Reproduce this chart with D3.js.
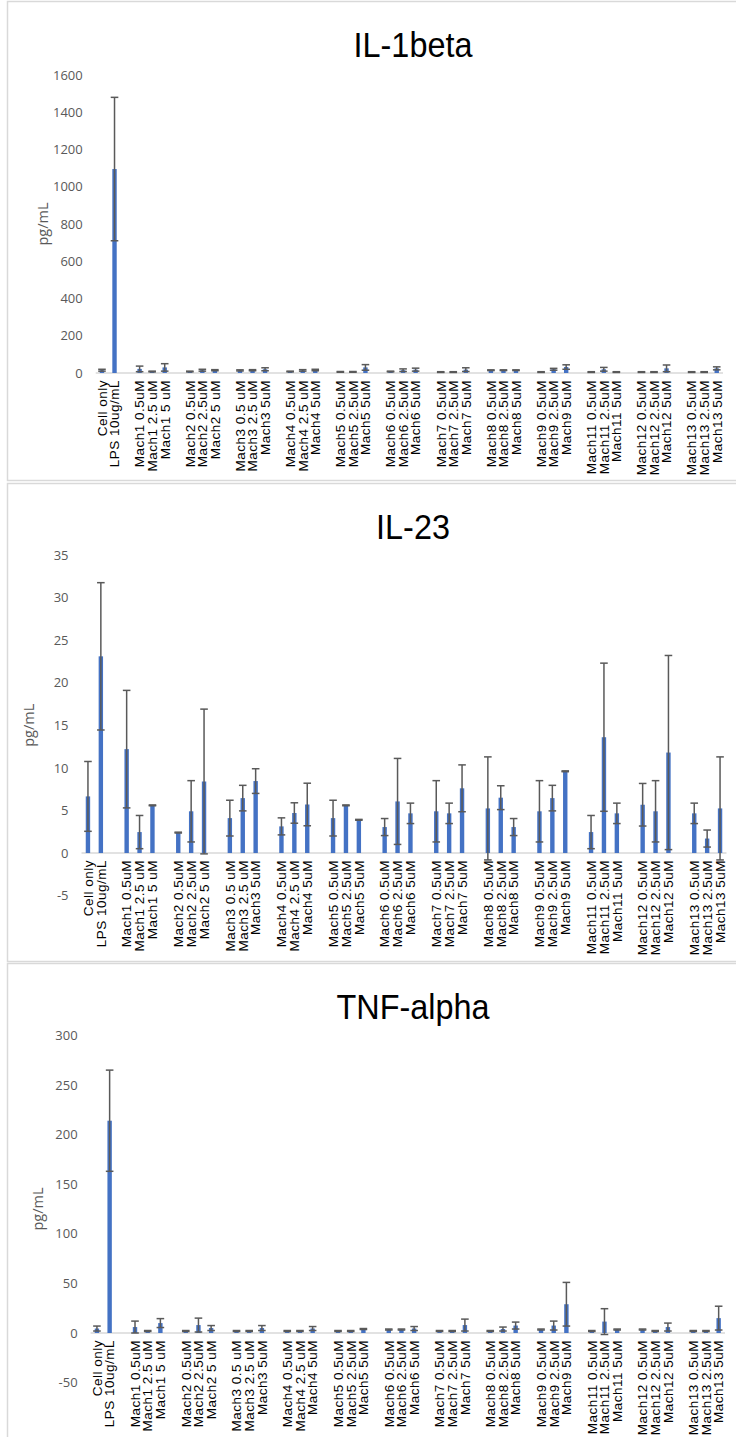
<!doctype html>
<html>
  <head>
    <meta charset="utf-8">
    <script src="https://cdnjs.cloudflare.com/ajax/libs/d3/7.8.5/d3.min.js"></script>
    <style>
      body { margin: 0; background: #fff; }
      svg { display: block; }
    </style>
  </head>
  <body>
    <svg id="chart" width="736" height="1437"></svg>
    <script>
        // x categories, blanks are the gaps between groups (empty rows in the sheet)
        var categories = ["Cell only", "LPS 10ug/mL", "",
            "Mach1 0.5uM", "Mach1 2.5 uM", "Mach1 5 uM", "",
            "Mach2 0.5uM", "Mach2 2.5uM", "Mach2 5 uM", "",
            "Mach3 0.5 uM", "Mach3 2.5 uM", "Mach3 5uM", "",
            "Mach4 0.5uM", "Mach4 2.5 uM", "Mach4 5uM", "",
            "Mach5 0.5uM", "Mach5 2.5uM", "Mach5 5uM", "",
            "Mach6 0.5uM", "Mach6 2.5uM", "Mach6 5uM", "",
            "Mach7 0.5uM", "Mach7 2.5uM", "Mach7 5uM", "",
            "Mach8 0.5uM", "Mach8 2.5uM", "Mach8 5uM", "",
            "Mach9 0.5uM", "Mach9 2.5uM", "Mach9 5uM", "",
            "Mach11  0.5uM", "Mach11  2.5uM", "Mach11  5uM", "",
            "Mach12  0.5uM", "Mach12  2.5uM", "Mach12  5uM", "",
            "Mach13  0.5uM", "Mach13  2.5uM", "Mach13  5uM"];

        var il1Mean = [15, 1095, null, 22, 8, 30, null, 8, 15, 15, null, 14, 15, 20, null,
            8, 14, 16, null, 6, 6, 30, null, 8, 15, 18, null, 5, 5, 18, null,
            15, 15, 15, null, 5, 20, 32, null, 5, 20, 5, null, 5, 5, 25, null, 5, 5, 25];
        var il1Err = [5, 385, null, 15, 2, 20, null, 2, 5, 3, null, 3, 3, 8, null,
            2, 4, 4, null, 2, 2, 15, null, 2, 7, 8, null, 2, 2, 10, null,
            2, 2, 2, null, 2, 5, 12, null, 2, 10, 2, null, 2, 2, 18, null, 2, 2, 8];

        var il23Mean = [6.65, 23.1, null, 12.2, 2.46, 5.6, null, 2.4, 4.9, 8.4, null, 4.1, 6.45, 8.45, null,
            3.13, 4.7, 5.7, null, 4.1, 5.6, 3.9, null, 3.05, 6.06, 4.66, null, 4.9, 4.66, 7.6, null,
            5.24, 6.5, 3.05, null, 4.9, 6.45, 9.6, null, 2.46, 13.6, 4.66, null, 5.67, 4.9, 11.8, null, 4.66, 1.7, 5.24];
        var il23Err = [4.1, 8.65, null, 6.9, 1.95, 0.05, null, 0.05, 3.6, 8.5, null, 2.1, 1.5, 1.45, null,
            1.0, 1.2, 2.5, null, 2.1, 0.05, 0.05, null, 1.0, 5.05, 1.2, null, 3.6, 1.2, 2.75, null,
            6.05, 1.4, 1.0, null, 3.6, 1.5, 0.05, null, 1.95, 8.7, 1.2, null, 2.5, 3.6, 11.4, null, 1.2, 1.0, 6.05];

        var tnfMean = [4.5, 214, null, 6, 2, 10, null, 2, 8, 5, null, 2, 2, 5, null,
            2, 2, 4.5, null, 2, 2, 4, null, 3.5, 3.5, 4.5, null, 2, 2, 8, null,
            2, 4, 7.5, null, 3.5, 7.5, 29, null, 2, 11.5, 3.5, null, 3.5, 2, 6, null, 2, 2, 15];
        var tnfErr = [2.5, 51, null, 6, 0.5, 4.5, null, 0.5, 7, 2.5, null, 0.5, 0.5, 2.5, null,
            0.5, 0.5, 2, null, 0.5, 0.5, 0.5, null, 0.5, 0.5, 2, null, 0.5, 0.5, 6, null,
            0.5, 2, 3.5, null, 0.5, 4.5, 22, null, 0.5, 13, 0.5, null, 0.5, 0.5, 4, null, 0.5, 0.5, 12];

        var titles = ["IL-1beta", "IL-23", "TNF-alpha"];
        var yDomains = [[0, 1600], [-5, 35], [-50, 300]];
        var yTicks = [d3.range(0, 1601, 200), d3.range(-5, 36, 5), d3.range(-50, 301, 50)];

        // layout of the three stacked panels
        var panels = [
            {top: 1, bottom: 480, left: 95.7, right: 723, yTop: 75, yBot: 373, mean: il1Mean, err: il1Err},
            {top: 483, bottom: 961, left: 81.5, right: 726.5, yTop: 555, yBot: 895.6, mean: il23Mean, err: il23Err},
            {top: 963, bottom: 1460, left: 90.6, right: 725, yTop: 1035.4, yBot: 1382.6, mean: tnfMean, err: tnfErr}
        ];

        var svg = d3.select("#chart");
        var blue = "#4472C4", errColor = "#595959";

        panels.forEach(function(p, i){
            var g = svg.append("g");

            g.append("rect")
                .attr("x", 7.5).attr("y", p.top + 0.5)
                .attr("width", 760).attr("height", p.bottom - p.top)
                .attr("fill", "#fff").attr("stroke", "#d9d9d9").attr("stroke-width", 1.5);

            g.append("text")
                .attr("transform", "translate(413," + (p.top + 56) + ") scale(0.9,1)")
                .attr("text-anchor", "middle")
                .style("font-family", "'Liberation Sans', Arial, sans-serif")
                .style("font-size", "36px")
                .attr("fill", "#000")
                .text(titles[i]);

            var x = d3.scaleBand()
                .domain(d3.range(categories.length))
                .range([p.left, p.right]);

            var y = d3.scaleLinear()
                .domain(yDomains[i])
                .range([p.yBot, p.yTop]);

            var axis = d3.axisLeft(y)
                .tickValues(yTicks[i])
                .tickFormat(d => String(d))
                .tickSize(0)
                .tickPadding(13);
            var ax = g.append("g")
                .attr("transform", "translate(" + p.left + ",0)")
                .call(axis);
            ax.select(".domain").remove();
            ax.selectAll("text")
                .style("font-family", "'Open Sans', sans-serif")
                .style("font-size", "13px")
                .attr("fill", "#595959");

            g.append("text")
                .attr("transform", "translate(" + (p.left - 48) + "," + ((p.yTop + p.yBot) / 2) + ") rotate(-90)")
                .attr("text-anchor", "middle")
                .style("font-family", "'Open Sans', sans-serif")
                .style("font-size", "14.5px")
                .attr("fill", "#595959")
                .text("pg/mL");

            // zero line
            g.append("line")
                .attr("x1", p.left).attr("x2", p.right)
                .attr("y1", y(0)).attr("y2", y(0))
                .attr("stroke", "#d9d9d9").attr("stroke-width", 1.5);

            var rows = categories.map(function(c, j){
                return {i: j, name: c, v: p.mean[j], e: p.err[j]};
            }).filter(function(d){ return d.v != null; });

            g.selectAll("rect.bar")
                .data(rows)
                .enter()
                .append("rect")
                    .attr("class", "bar")
                    .attr("x", d => x(d.i) + x.bandwidth() / 2 - 2.2)
                    .attr("width", 4.4)
                    .attr("y", d => y(Math.max(0, d.v)))
                    .attr("height", d => Math.abs(y(d.v) - y(0)))
                    .attr("fill", blue);

            var eb = g.selectAll("g.err")
                .data(rows)
                .enter()
                .append("g")
                    .attr("class", "err")
                    .attr("stroke", errColor)
                    .attr("stroke-width", 1.5);
            eb.append("line")
                .attr("x1", d => x(d.i) + x.bandwidth() / 2)
                .attr("x2", d => x(d.i) + x.bandwidth() / 2)
                .attr("y1", d => y(d.v - d.e))
                .attr("y2", d => y(d.v + d.e));
            [-1, 1].forEach(function(s){
                eb.append("line")
                    .attr("x1", d => x(d.i) + x.bandwidth() / 2 - 3.8)
                    .attr("x2", d => x(d.i) + x.bandwidth() / 2 + 3.8)
                    .attr("y1", d => y(d.v + s * d.e))
                    .attr("y2", d => y(d.v + s * d.e));
            });

            // category labels, rotated, next to the zero line
            g.selectAll("text.cat")
                .data(categories.map((c, j) => ({i: j, name: c})).filter(d => d.name !== ""))
                .enter()
                .append("text")
                    .attr("class", "cat")
                    .attr("transform", d => "translate(" + (x(d.i) + x.bandwidth() / 2 + 4.8) + "," + (y(0) + 7) + ") rotate(-90)")
                    .attr("text-anchor", "end")
                    .style("font-family", "'Liberation Sans', Arial, sans-serif")
                    .style("font-size", "13.5px")
                    .style("letter-spacing", "0.5px")
                    .attr("fill", "#000")
                    .text(d => d.name);
        });
    </script>
  </body>
</html>
